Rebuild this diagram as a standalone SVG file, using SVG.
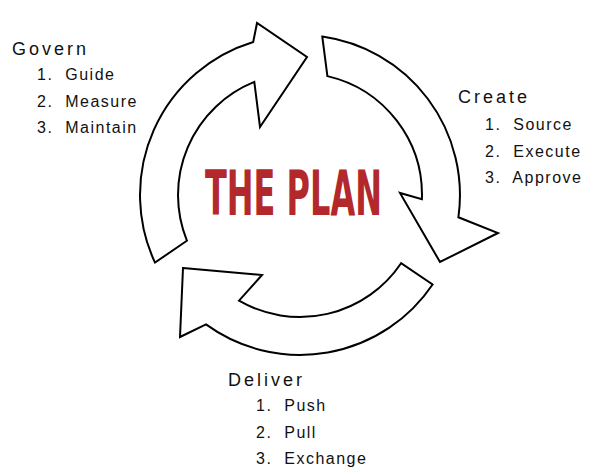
<svg xmlns="http://www.w3.org/2000/svg" width="600" height="475" viewBox="0 0 600 475">
<style>
.arr{fill:#fff;stroke:#000;stroke-width:2;stroke-linejoin:miter}
.h{font-family:"Liberation Sans",Arial,sans-serif;font-size:18px;letter-spacing:3px;fill:#111}
.i{font-family:"Liberation Sans",Arial,sans-serif;font-size:16px;letter-spacing:1.5px;fill:#111;white-space:pre}
.t{font-family:"Liberation Sans Narrow","DejaVu Sans Condensed",sans-serif;font-weight:bold;font-size:62px;fill:#b3282b}
</style>
<rect width="600" height="475" fill="#fff"/>
<g id="connectors">
<path id="arrow-govern" class="arr" d="M155 262.6 A160 160 0 0 1 253.2 42 L257 23 L307 57 L260 127 L254.3 81.9 A122 122 0 0 0 186.9 240.7 Z"/>
<path id="arrow-create" class="arr" d="M322.3 36.6 A160 160 0 0 1 458.4 217.3 L498 233 L440 262 L400 193 L421.9 199.3 A122 122 0 0 0 327.4 76.1 Z"/>
<path id="arrow-deliver" class="arr" d="M183 268 L262 275 L239 300.7 A122 122 0 0 0 401.1 263.2 L432.6 284.5 A160 160 0 0 1 206 324.4 L180 337 Z"/>
</g>
<g id="center"><text class="t" x="205" y="215" textLength="177" lengthAdjust="spacingAndGlyphs">THE PLAN</text></g>
<g id="govern">
<text class="h" x="12" y="55">Govern</text>
<text class="i" x="37" y="80">1.  Guide</text>
<text class="i" x="37" y="107">2.  Measure</text>
<text class="i" x="37" y="133">3.  Maintain</text>
</g>
<g id="create">
<text class="h" x="458" y="103">Create</text>
<text class="i" x="485" y="130">1.  Source</text>
<text class="i" x="485" y="157">2.  Execute</text>
<text class="i" x="485" y="183">3.  Approve</text>
</g>
<g id="deliver">
<text class="h" x="228" y="386">Deliver</text>
<text class="i" x="256" y="411">1.  Push</text>
<text class="i" x="256" y="438">2.  Pull</text>
<text class="i" x="256" y="464">3.  Exchange</text>
</g>
</svg>
